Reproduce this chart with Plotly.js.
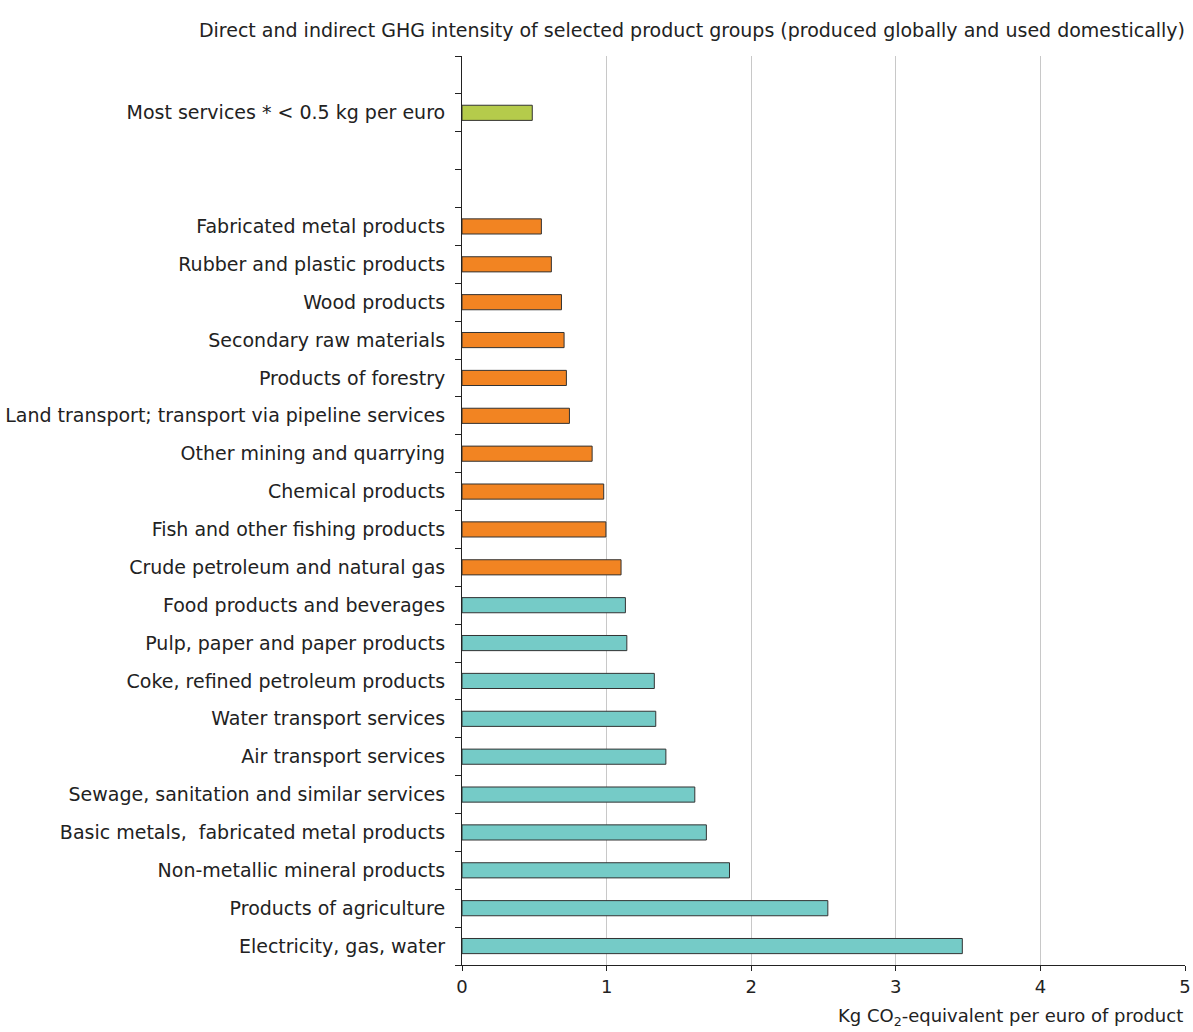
<!DOCTYPE html>
<html>
<head>
<meta charset="utf-8">
<script src="https://cdn.plot.ly/plotly-3.0.1.min.js"></script>
<style>html,body{margin:0;padding:0;background:#fff;}#chart{width:1193px;height:1032px;}</style>
</head>
<body>
<div id="chart"></div>
<script>
// Category order, bottom to top (blank entries are empty slots)
const categoryOrder = [
  "Electricity, gas, water",
  "Products of agriculture",
  "Non-metallic mineral products",
  "Basic metals,  fabricated metal products",
  "Sewage, sanitation and similar services",
  "Air transport services",
  "Water transport services",
  "Coke, refined petroleum products",
  "Pulp, paper and paper products",
  "Food products and beverages",
  "Crude petroleum and natural gas",
  "Fish and other fishing products",
  "Chemical products",
  "Other mining and quarrying",
  "Land transport; transport via pipeline services",
  "Products of forestry",
  "Secondary raw materials",
  "Wood products",
  "Rubber and plastic products",
  "Fabricated metal products",
  " ",
  "  ",
  "Most services * < 0.5 kg per euro",
  "   "
];

const tealCategories = [
  "Electricity, gas, water",
  "Products of agriculture",
  "Non-metallic mineral products",
  "Basic metals,  fabricated metal products",
  "Sewage, sanitation and similar services",
  "Air transport services",
  "Water transport services",
  "Coke, refined petroleum products",
  "Pulp, paper and paper products",
  "Food products and beverages"
];
const tealValues = [3.46, 2.53, 1.85, 1.69, 1.61, 1.41, 1.34, 1.33, 1.14, 1.13];

const orangeCategories = [
  "Crude petroleum and natural gas",
  "Fish and other fishing products",
  "Chemical products",
  "Other mining and quarrying",
  "Land transport; transport via pipeline services",
  "Products of forestry",
  "Secondary raw materials",
  "Wood products",
  "Rubber and plastic products",
  "Fabricated metal products"
];
const orangeValues = [1.10, 0.995, 0.98, 0.90, 0.743, 0.722, 0.706, 0.688, 0.618, 0.549];

const greenCategories = ["Most services * < 0.5 kg per euro"];
const greenValues = [0.486];

const xTicks = [0, 1, 2, 3, 4, 5];

const FONT = "Verdana, 'DejaVu Sans', sans-serif";
const TEXT = "#222222";
const lineStyle = {color: "#333333", width: 1};

function barTrace(cats, vals, color) {
  return {
    type: "bar",
    orientation: "h",
    y: cats,
    x: vals,
    width: 0.4,
    marker: {color: color, line: lineStyle},
    showlegend: false,
    hoverinfo: "x+y"
  };
}

const data = [
  barTrace(tealCategories, tealValues, "#75CBC7"),
  barTrace(orangeCategories, orangeValues, "#F28422"),
  barTrace(greenCategories, greenValues, "#B5CB4B")
];

const layout = {
  width: 1193,
  height: 1032,
  margin: {l: 462, r: 8, t: 56, b: 67},
  paper_bgcolor: "#ffffff",
  plot_bgcolor: "#ffffff",
  font: {family: FONT, size: 18, color: TEXT},
  title: {
    text: "Direct and indirect GHG intensity of selected product groups (produced globally and used domestically)",
    font: {family: FONT, size: 19, color: TEXT},
    xref: "paper", x: 1, xanchor: "right",
    yref: "container", y: 1 - 30 / 1032, yanchor: "middle"
  },
  xaxis: {
    range: [0, 5],
    tickvals: xTicks,
    ticktext: xTicks.map(String),
    showgrid: true,
    gridcolor: "#c8c8c8",
    gridwidth: 1,
    zeroline: false,
    showline: true,
    linecolor: TEXT,
    linewidth: 1,
    ticks: "outside",
    ticklen: 5,
    tickcolor: TEXT,
    tickfont: {family: FONT, size: 18, color: TEXT},
    fixedrange: true
  },
  yaxis: {
    type: "category",
    categoryorder: "array",
    categoryarray: categoryOrder,
    range: [-0.5, categoryOrder.length - 0.5],
    tickmode: "array",
    tickvals: categoryOrder,
    ticktext: categoryOrder,
    tickson: "boundaries",
    ticks: "outside",
    ticklen: 6,
    tickcolor: TEXT,
    showline: true,
    linecolor: TEXT,
    linewidth: 1,
    showgrid: false,
    zeroline: false,
    ticklabelstandoff: 12,
    tickfont: {family: FONT, size: 19, color: TEXT},
    fixedrange: true
  },
  bargap: 0.6,
  annotations: [{
    text: "Kg CO<sub>2</sub>-equivalent per euro of product",
    xref: "paper", x: 1, xanchor: "right",
    yref: "paper", y: 0, yanchor: "top", yshift: -38,
    showarrow: false,
    font: {family: FONT, size: 18, color: TEXT}
  }]
};

Plotly.newPlot("chart", data, layout, {displayModeBar: false, staticPlot: true});
</script>
</body>
</html>
